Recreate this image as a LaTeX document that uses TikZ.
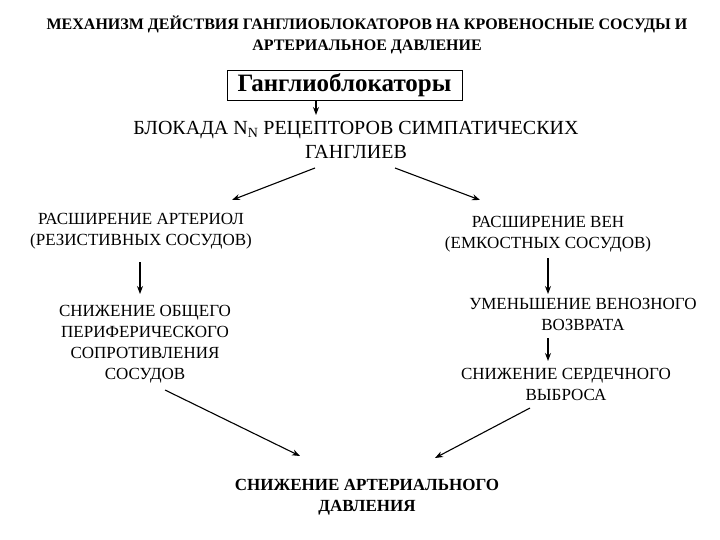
\documentclass[tikz,border=0pt]{standalone}
\usepackage{fontspec}
\usetikzlibrary{arrows.meta}
\setmainfont{Liberation Serif}
\begin{document}
\begin{tikzpicture}[x=1pt,y=-1pt,
  txt/.style={align=center,inner sep=0pt,font=\fontsize{17}{21}\selectfont},
  arr/.style={-{Stealth[length=8pt,width=6pt]},line width=1.1pt}]
\useasboundingbox (0,0) rectangle (720,540);
\node[txt,font=\bfseries\fontsize{16}{21}\selectfont] (title) at (367,35) {МЕХАНИЗМ ДЕЙСТВИЯ ГАНГЛИОБЛОКАТОРОВ НА КРОВЕНОСНЫЕ СОСУДЫ И\\АРТЕРИАЛЬНОЕ ДАВЛЕНИЕ};
\node[draw,line width=0.9pt,minimum width=235pt,minimum height=30pt,inner sep=0pt,font=\bfseries\fontsize{25}{28}\selectfont] (gb) at (344.5,85) {Ганглиоблокаторы};
\node[txt,font=\fontsize{20}{24}\selectfont] (bl) at (356,140) {БЛОКАДА N\textsubscript{N} РЕЦЕПТОРОВ СИМПАТИЧЕСКИХ\\ГАНГЛИЕВ};
\node[txt] (ra) at (141,231) {РАСШИРЕНИЕ АРТЕРИОЛ\\(РЕЗИСТИВНЫХ СОСУДОВ)};
\node[txt] (rv) at (548,234) {РАСШИРЕНИЕ ВЕН\\(ЕМКОСТНЫХ СОСУДОВ)};
\node[txt] (so) at (145,344) {СНИЖЕНИЕ ОБЩЕГО\\ПЕРИФЕРИЧЕСКОГО\\СОПРОТИВЛЕНИЯ\\СОСУДОВ};
\node[txt] (uv) at (583,314) {УМЕНЬШЕНИЕ ВЕНОЗНОГО\\ВОЗВРАТА};
\node[txt] (ss) at (566,384) {СНИЖЕНИЕ СЕРДЕЧНОГО\\ВЫБРОСА};
\node[txt,font=\bfseries\fontsize{17}{21}\selectfont] (sa) at (367,497) {СНИЖЕНИЕ АРТЕРИАЛЬНОГО\\ДАВЛЕНИЯ};
\draw[arr] (gb.south -| 316,0) -- (316,115);
\draw[arr] (315,168) -- (232,200);
\draw[arr] (395,168) -- (480,200);
\draw[arr] (140,262) -- (140,294);
\draw[arr] (548,258) -- (548,294);
\draw[arr] (548,338) -- (548,361);
\draw[arr] (165,390) -- (300,456);
\draw[arr] (530,408) -- (435,458);
\end{tikzpicture}
\end{document}
